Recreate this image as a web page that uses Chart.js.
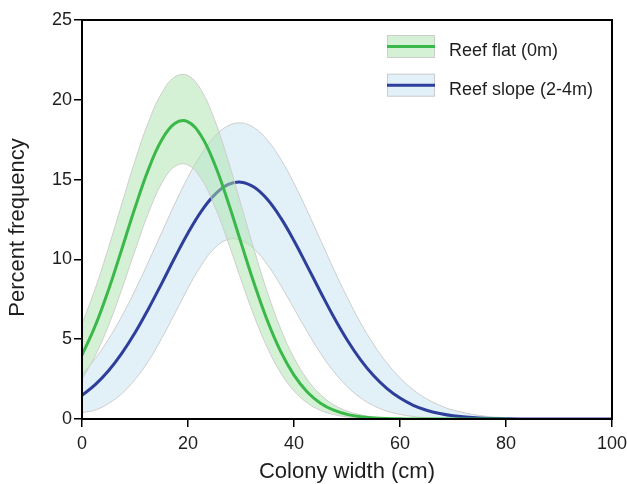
<!DOCTYPE html>
<html>
<head>
<meta charset="utf-8">
<script src="https://cdn.jsdelivr.net/npm/chart.js@4.4.0/dist/chart.umd.min.js"></script>
<style>
  html, body { margin: 0; padding: 0; background: #fff; }
  #wrap { width: 627px; height: 484px; }
</style>
</head>
<body>
<div id="wrap"><canvas id="myChart" width="627" height="484"></canvas></div>
<script>
// colony width (cm)
const colonyWidth = [0, 2.5, 5, 7.5, 10, 12.5, 15, 17.5, 20, 22.5, 25, 27.5, 30, 32.5, 35, 37.5, 40, 42.5, 45, 47.5,
                     50, 52.5, 55, 57.5, 60, 62.5, 65, 67.5, 70, 75, 80, 85, 90, 95, 100];

// Reef flat (0m): mean curve and band edges
const flatMean  = [4.0, 5.84, 8.09, 10.63, 13.23, 15.61, 17.46, 18.52, 18.62, 17.73, 15.99, 13.66, 11.05, 8.47, 6.14, 4.22, 2.75, 1.69, 0.99, 0.55,
                   0.29, 0.14, 0.07, 0.03, 0.01, 0, 0, 0, 0, 0, 0, null, null, null, null];
const flatUpper = [5.95, 8.17, 10.73, 13.47, 16.17, 18.57, 20.4, 21.43, 21.52, 20.59, 18.76, 16.27, 13.44, 10.57, 7.92, 5.64, 3.83, 2.48, 1.53, 0.89,
                   0.5, 0.27, 0.13, 0.06, 0.03, 0.01, 0, 0, 0, 0, 0, null, null, null, null];
const flatLower = [2.51, 3.96, 5.86, 8.12, 10.56, 12.88, 14.74, 15.82, 15.92, 15.05, 13.36, 11.15, 8.74, 6.43, 4.45, 2.89, 1.76, 1.01, 0.54, 0.28,
                   0.13, 0.06, 0.02, 0.01, 0, 0, 0, 0, 0, 0, 0, null, null, null, null];

// Reef slope (2-4m)
const slopeMean  = [1.48, 2.15, 3.02, 4.11, 5.4, 6.88, 8.47, 10.1, 11.65, 13.01, 14.04, 14.68, 14.84, 14.52, 13.75, 12.6, 11.17, 9.58, 7.96, 6.39,
                    4.97, 3.74, 2.72, 1.92, 1.31, 0.86, 0.55, 0.34, 0.2, 0.07, 0.02, 0, 0, 0, 0];
const slopeUpper = [2.78, 3.78, 5.0, 6.43, 8.05, 9.82, 11.65, 13.47, 15.15, 16.59, 17.69, 18.36, 18.55, 18.24, 17.46, 16.28, 14.77, 13.04, 11.21, 9.38,
                    7.65, 6.06, 4.68, 3.52, 2.58, 1.83, 1.27, 0.86, 0.56, 0.22, 0.08, 0.03, 0.01, 0, 0];
const slopeLower = [0.4, 0.56, 0.97, 1.59, 2.47, 3.62, 5.03, 6.6, 8.2, 9.63, 10.7, 11.25, 11.2, 10.65, 9.66, 8.37, 6.92, 5.47, 4.12, 2.97,
                    2.04, 1.34, 0.84, 0.5, 0.29, 0.16, 0.08, 0.04, 0.02, 0, 0, 0, 0, 0, 0];

const seriesNames = ['Reef flat (0m)', 'Reef slope (2-4m)'];
const xTicks = [0, 20, 40, 60, 80, 100];
const yTicks = [0, 5, 10, 15, 20, 25];
const xTitle = 'Colony width (cm)';
const yTitle = 'Percent frequency';

const fontFamily = '"Liberation Sans", Arial, Helvetica, sans-serif';
const textColor = '#1e1e1e';

const flatLine = '#3ab84a';
const slopeLine = '#2d3e9b';
const flatFill = 'rgba(171,227,171,0.5)';
const slopeFill = 'rgba(190,222,240,0.45)';
const edgeColor = '#cdcdcd';

const toPoints = (arr) => colonyWidth.map((x, i) => ({ x: x, y: arr[i] }));

const bandEdge = (arr, fillTo, fillColor, order) => ({
  data: toPoints(arr),
  borderColor: edgeColor,
  borderWidth: 1,
  backgroundColor: fillColor,
  fill: fillTo === null ? false : fillTo,
  pointRadius: 0,
  tension: 0.4,
  order: order
});

const meanLine = (arr, color, label, order) => ({
  label: label,
  data: toPoints(arr),
  borderColor: color,
  borderWidth: 3,
  fill: false,
  pointRadius: 0,
  tension: 0.4,
  order: order
});

// frame round the plot, y title and the legend inside the plot
const frameAndLegend = {
  id: 'frameAndLegend',
  afterDraw(chart) {
    const { ctx, chartArea: a } = chart;
    ctx.save();
    ctx.strokeStyle = '#000';
    ctx.lineWidth = 2;
    ctx.strokeRect(a.left, a.top, a.right - a.left, a.bottom - a.top);

    // y axis title, sits a little below the middle of the axis
    ctx.save();
    ctx.translate(18, (a.top + a.bottom) / 2 + 8);
    ctx.rotate(-Math.PI / 2);
    ctx.fillStyle = textColor;
    ctx.font = '22px ' + fontFamily;
    ctx.textAlign = 'center';
    ctx.textBaseline = 'middle';
    ctx.fillText(yTitle, 0, 0);
    ctx.restore();

    const fills = [flatFill, slopeFill];
    const lines = [flatLine, slopeLine];
    const bx = a.right - 225;
    seriesNames.forEach((name, i) => {
      const by = a.top + 15 + i * 38.7;
      ctx.fillStyle = '#fff';
      ctx.fillRect(bx, by, 48, 23);
      ctx.fillStyle = fills[i];
      ctx.fillRect(bx, by, 48, 23);
      ctx.strokeStyle = edgeColor;
      ctx.lineWidth = 1;
      ctx.strokeRect(bx + 0.5, by + 0.5, 47, 22);
      ctx.strokeStyle = lines[i];
      ctx.lineWidth = 3;
      ctx.beginPath();
      ctx.moveTo(bx, by + 11.5);
      ctx.lineTo(bx + 48, by + 11.5);
      ctx.stroke();
      ctx.fillStyle = textColor;
      ctx.font = '18px ' + fontFamily;
      ctx.textBaseline = 'alphabetic';
      ctx.textAlign = 'left';
      ctx.fillText(name, bx + 62, by + 21);
    });
    ctx.restore();
  }
};

const ctx = document.getElementById('myChart');

new Chart(ctx, {
  type: 'line',
  data: {
    datasets: [
      meanLine(flatMean, flatLine, seriesNames[0], 1),
      bandEdge(flatUpper, 2, flatFill, 3),
      bandEdge(flatLower, null, flatFill, 2),
      meanLine(slopeMean, slopeLine, seriesNames[1], 4),
      bandEdge(slopeUpper, 5, slopeFill, 6),
      bandEdge(slopeLower, null, slopeFill, 5)
    ]
  },
  options: {
    responsive: false,
    animation: false,
    layout: { padding: { left: 0, right: 15, top: 20, bottom: 0 } },
    plugins: {
      legend: { display: false },
      tooltip: { enabled: false },
      filler: { drawTime: 'beforeDatasetDraw' }
    },
    scales: {
      x: {
        type: 'linear',
        min: 0,
        max: 100,
        afterBuildTicks: (s) => { s.ticks = xTicks.map(v => ({ value: v })); },
        afterFit: (s) => { s.height = 65; s.paddingLeft = 0; s.paddingRight = 0; },
        ticks: { padding: 6, color: textColor, font: { size: 18, family: fontFamily } },
        grid: { drawOnChartArea: false, tickLength: 8, color: '#000', lineWidth: 1.5 },
        border: { display: false },
        title: {
          display: true,
          text: xTitle,
          color: textColor,
          font: { size: 22, family: fontFamily, lineHeight: 1.1 },
          padding: { top: 0, bottom: 0 }
        }
      },
      y: {
        min: 0,
        max: 25,
        afterBuildTicks: (s) => { s.ticks = yTicks.map(v => ({ value: v })); },
        afterFit: (s) => { s.width = 82; s.paddingTop = 0; s.paddingBottom = 0; },
        ticks: { padding: 2, color: textColor, font: { size: 18, family: fontFamily } },
        grid: { drawOnChartArea: false, tickLength: 8, color: '#000', lineWidth: 1.5 },
        border: { display: false },
        title: { display: false }
      }
    }
  },
  plugins: [frameAndLegend]
});
</script>
</body>
</html>
